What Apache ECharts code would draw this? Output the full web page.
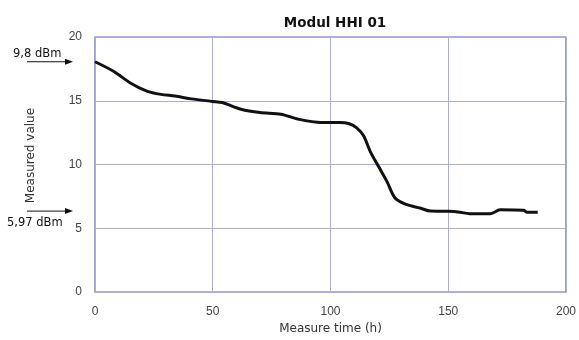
<!DOCTYPE html>
<html>
<head>
<meta charset="utf-8">
<script src="https://cdn.jsdelivr.net/npm/echarts@6/dist/echarts.min.js"></script>
<style>
  html, body { margin: 0; padding: 0; background: #fff; }
  #chart { width: 579px; height: 340px; }
</style>
</head>
<body>
<div id="chart"></div>
<script>
const hours = [0, 8, 15, 22, 28, 34, 41, 50, 54, 62, 70, 79, 86, 96, 104, 108, 111, 114, 117, 120.5, 124, 127.5, 132.5, 138, 142.5, 150, 155, 159, 168, 172, 182, 183.5, 188];
const values = [18.06, 17.3, 16.4, 15.76, 15.5, 15.37, 15.15, 14.95, 14.86, 14.34, 14.08, 13.95, 13.57, 13.3, 13.3, 13.2, 12.9, 12.27, 10.98, 9.82, 8.66, 7.36, 6.85, 6.59, 6.35, 6.33, 6.26, 6.15, 6.15, 6.45, 6.41, 6.26, 6.26];

// arrows left of the y axis
const noteLabels = ['9,8 dBm', '5,97 dBm'];
const noteValues = [18.06, 6.35];

const font = 'Liberation Sans, Arial, sans-serif';
const wideFont = 'DejaVu Sans, sans-serif';
const gridColor = '#a9addf';

const myChart = echarts.init(document.querySelector('#chart'));

myChart.setOption({
    animation: false,
    backgroundColor: '#fff',
    title: {
        text: 'Modul HHI 01',
        left: 330,
        top: 11,
        textAlign: 'center',
        textStyle: { fontFamily: wideFont, fontSize: 13.5, fontWeight: 'bold', color: '#111' }
    },
    grid: {
        left: 95, right: 12, top: 37, bottom: 45,
        show: true, borderColor: '#5b68b5', borderWidth: 1.2
    },
    xAxis: {
        type: 'value',
        min: 0, max: 200, interval: 50,
        name: 'Measure time (h)',
        nameLocation: 'middle',
        nameGap: 28,
        nameTextStyle: { fontFamily: wideFont, fontSize: 12, color: '#333' },
        axisLine: { show: false },
        axisTick: { show: false },
        axisLabel: { margin: 14, fontFamily: font, fontSize: 12, color: '#444' },
        splitLine: { lineStyle: { color: gridColor, width: 1 } }
    },
    yAxis: {
        type: 'value',
        min: 0, max: 20, interval: 5,
        name: 'Measured value',
        nameLocation: 'middle',
        nameGap: 58,
        nameTextStyle: { fontFamily: wideFont, fontSize: 12, color: '#333', padding: [0, 0, 0, 18] },
        axisLine: { show: false },
        axisTick: { show: false },
        axisLabel: { margin: 13, fontFamily: font, fontSize: 12, color: '#444' },
        splitLine: { lineStyle: { color: gridColor, width: 1 } }
    },
    series: [{
        type: 'line',
        data: hours.map((h, i) => [h, values[i]]),
        showSymbol: false,
        smooth: 0.3,
        lineStyle: { color: '#111', width: 3 }
    }]
});

// place the dBm notes at the height of their value
const notes = noteLabels.map((label, i) => {
    const y = myChart.convertToPixel({ yAxisIndex: 0 }, noteValues[i]);
    const above = i === 0;
    return [
        {
            type: 'line',
            shape: { x1: 27, y1: y, x2: 68, y2: y },
            style: { stroke: '#111', lineWidth: 1 }
        },
        {
            type: 'polygon',
            shape: { points: [[73, y], [65, y - 3], [65, y + 3]] },
            style: { fill: '#111' }
        },
        {
            type: 'text',
            x: above ? 13 : 7,
            y: above ? y - 14 : y + 6,
            style: { text: label, fontFamily: wideFont, fontSize: 11.5, fill: '#111' }
        }
    ];
}).flat();

myChart.setOption({ graphic: notes });
</script>
</body>
</html>
